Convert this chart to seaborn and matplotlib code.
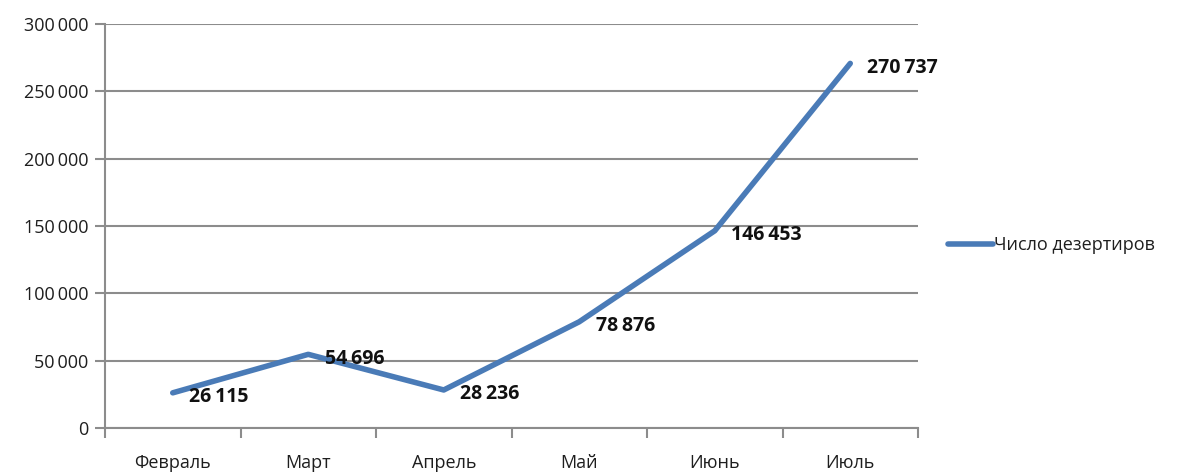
import matplotlib
matplotlib.use("Agg")
import matplotlib.pyplot as plt
import seaborn as sns
import pandas as pd
import numpy as np
from matplotlib.ticker import FixedLocator, FuncFormatter

months = ["Февраль", "Март", "Апрель", "Май", "Июнь", "Июль"]
deserters = [26115, 54696, 28236, 78876, 146453, 270737]
series_name = "Число дезертиров"
yticks = [0, 50000, 100000, 150000, 200000, 250000, 300000]

sns.set_theme(style="white")
plt.rcParams['font.family'] = ['Open Sans', 'DejaVu Sans']

def fmt(v):
    s = f"{int(v):,}".replace(",", "\u2009")
    return s

df = pd.DataFrame({"month": months, "value": deserters, "series": series_name})

fig = plt.figure(figsize=(11.78, 4.73), dpi=100)
ax = fig.add_axes([105/1178, 1 - 428/473, (918-105)/1178, (428-24)/473])

grid_c = "#8c8c8c"
line_c = "#4a7bb7"
text_c = "#1e1e1e"

sns.lineplot(data=df, x="month", y="value", hue="series", palette=[line_c],
             linewidth=4, ax=ax, sort=False, legend=True)

ax.set_ylim(0, 300000)
ax.set_xlim(-0.5, len(months) - 0.5)
ax.yaxis.set_major_locator(FixedLocator(yticks))
ax.yaxis.set_major_formatter(FuncFormatter(lambda v, p: fmt(v)))
ax.grid(axis="y", color=grid_c, linewidth=1.5)
ax.set_axisbelow(True)

ax.set_xticks(range(len(months)))
ax.set_xticklabels(months)
ax.xaxis.set_minor_locator(FixedLocator(np.arange(-0.5, len(months), 1.0)))
ax.tick_params(axis="x", which="major", bottom=True, length=0, pad=19, labelsize=13,
               labelcolor=text_c)
ax.tick_params(axis="x", which="minor", bottom=True, length=7, width=1.5, color=grid_c,
               direction="out")
ax.tick_params(axis="y", which="major", left=True, length=7, width=1.5, color=grid_c,
               direction="out", labelsize=13, labelcolor=text_c, pad=5)
ax.set_xlabel("")
ax.set_ylabel("")

for side in ["top", "right"]:
    ax.spines[side].set_visible(False)
for side in ["left", "bottom"]:
    ax.spines[side].set_color(grid_c)
    ax.spines[side].set_linewidth(1.5)

for i, v in enumerate(deserters):
    ax.annotate(fmt(v), (i, v), xytext=(12, -3), textcoords="offset points",
                ha="left", va="center", fontsize=14, fontweight="bold", color="#111111")

leg = ax.get_legend()
handles, labels = ax.get_legend_handles_labels()
leg.remove()
fig.legend(handles, labels, loc="center left", bbox_to_anchor=(948/1178, 1 - 245/473),
           frameon=False, fontsize=13, handlelength=2.5, handletextpad=0.05,
           borderaxespad=0, borderpad=0, labelcolor=text_c)

fig.savefig("out.png", dpi=100)
